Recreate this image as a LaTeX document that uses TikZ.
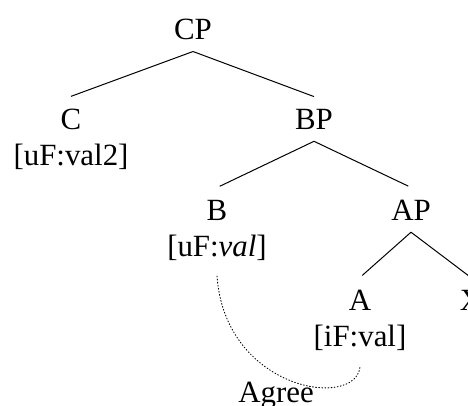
\documentclass[tikz,border=0pt]{standalone}
\usepackage{fontspec}
\setmainfont{Liberation Serif}
\begin{document}
\begin{tikzpicture}[x=1bp,y=1bp,
  lbl/.style={anchor=base,inner xsep=0pt,inner ysep=12bp,font=\fontsize{31}{36}\selectfont},
  branch/.style={line width=1bp},
  lowbranch/.style={branch,shorten >=3bp},
  agreeline/.style={line width=0.9bp,dash pattern=on 0.9bp off 2.2bp,line cap=round}]
\useasboundingbox (0,0) rectangle (468,-405);
\node[lbl] (CP) at (193,-39) {CP};
\node[lbl] (C) at (71,-129) {C};
\node[lbl] (Cf) at (71,-165) {[uF:val2]};
\node[lbl] (BP) at (314,-129) {BP};
\node[lbl] (B) at (217,-220) {B};
\node[lbl] (Bf) at (217,-256) {[uF:\textit{val}]};
\node[lbl] (AP) at (411,-220) {AP};
\node[lbl] (A) at (360,-310) {A};
\node[lbl] (X) at (471,-310) {X};
\node[lbl] (Af) at (360,-346) {[iF:val]};
\node[lbl] (Ag) at (276,-402) {Agree};
\draw[branch] (CP.south) -- (C.north);
\draw[branch] (CP.south) -- (BP.north);
\draw[lowbranch] (BP.south) -- (B.north);
\draw[lowbranch] (BP.south) -- (AP.north);
\draw[lowbranch] (AP.south) -- (A.north);
\draw[lowbranch] (AP.south) -- (X.north);
\coordinate (d1) at (217,-276);
\coordinate (d2) at (360,-367);
\draw[agreeline] (d1) .. controls (225,-390) and (355,-410) .. (d2);
\end{tikzpicture}
\end{document}
